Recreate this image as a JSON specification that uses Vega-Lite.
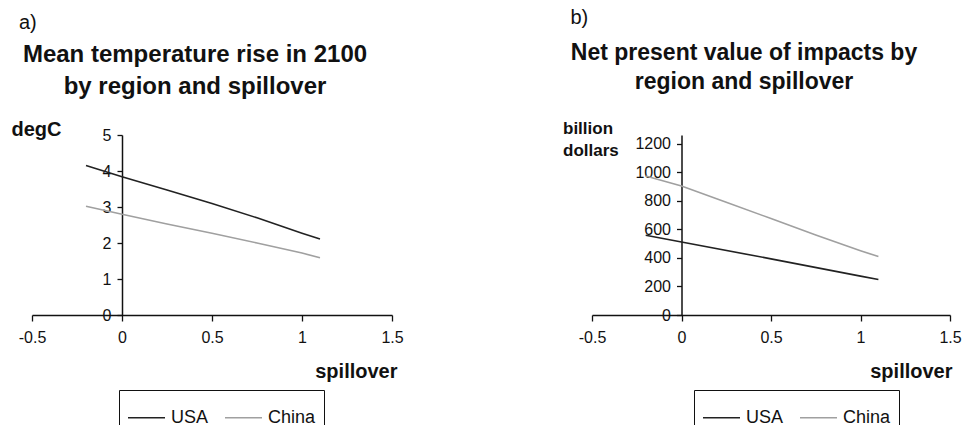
{
  "$schema": "https://vega.github.io/schema/vega-lite/v6.json",
  "background": "#ffffff",
  "padding": {"left": 11, "top": 8, "right": 5, "bottom": 5},
  "config": {
    "font": "Liberation Sans",
    "view": {"stroke": null},
    "axis": {"grid": false, "domainColor": "#111111", "domainWidth": 1.5, "tickColor": "#111111", "tickWidth": 1.3, "labelColor": "#111111", "labelFont": "Liberation Sans", "labelFontSize": 16, "labelFlush": false, "titleFont": "Liberation Sans", "titleColor": "#111111"},
    "title": {"font": "Liberation Sans", "color": "#111111"},
    "legend": {"labelFont": "Liberation Sans"}
  },
  "datasets": {
    "temp": [
      {"region": "USA", "spillover": -0.2, "value": 4.15},
      {"region": "USA", "spillover": 0, "value": 3.84},
      {"region": "USA", "spillover": 0.25, "value": 3.47},
      {"region": "USA", "spillover": 0.5, "value": 3.1},
      {"region": "USA", "spillover": 0.75, "value": 2.7},
      {"region": "USA", "spillover": 1, "value": 2.27},
      {"region": "USA", "spillover": 1.1, "value": 2.11},
      {"region": "China", "spillover": -0.2, "value": 3.02},
      {"region": "China", "spillover": 0, "value": 2.8},
      {"region": "China", "spillover": 0.25, "value": 2.53},
      {"region": "China", "spillover": 0.5, "value": 2.27},
      {"region": "China", "spillover": 0.75, "value": 2.0},
      {"region": "China", "spillover": 1, "value": 1.72},
      {"region": "China", "spillover": 1.1, "value": 1.59}
    ],
    "npv": [
      {"region": "USA", "spillover": -0.2, "value": 558},
      {"region": "USA", "spillover": 0, "value": 511},
      {"region": "USA", "spillover": 0.5, "value": 393},
      {"region": "USA", "spillover": 1, "value": 272},
      {"region": "USA", "spillover": 1.1, "value": 248},
      {"region": "China", "spillover": -0.2, "value": 973},
      {"region": "China", "spillover": 0, "value": 903},
      {"region": "China", "spillover": 0.25, "value": 790},
      {"region": "China", "spillover": 0.5, "value": 675},
      {"region": "China", "spillover": 0.75, "value": 560},
      {"region": "China", "spillover": 1, "value": 450},
      {"region": "China", "spillover": 1.1, "value": 409}
    ]
  },
  "spacing": 158,
  "resolve": {"scale": {"color": "independent", "x": "independent", "y": "independent"}, "legend": {"color": "independent"}},
  "hconcat": [
    {
      "title": {"text": "a)", "anchor": "start", "fontSize": 20, "fontWeight": "normal", "offset": 10, "dx": 8},
      "vconcat": [
        {
          "width": 360,
          "height": 180,
          "title": {"text": ["Mean temperature rise in 2100", "by region and spillover"], "fontSize": 24, "fontWeight": "bold", "anchor": "middle", "lineHeight": 32, "offset": 20, "dx": -17},
          "data": {"name": "temp"},
          "mark": {"type": "line", "strokeWidth": 1.6},
          "encoding": {
            "x": {"field": "spillover", "type": "quantitative", "scale": {"domain": [-0.5, 1.5], "nice": false},
              "axis": {"values": [-0.5, 0, 0.5, 1, 1.5], "labelExpr": "datum.value < 0 ? '-' + format(-datum.value, '~g') : format(datum.value, '~g')", "tickSize": 6, "labelPadding": 8, "title": "spillover", "titleFontSize": 20, "titleFontWeight": "bold", "titleAnchor": "end", "titleAlign": "right", "titleBaseline": "alphabetic", "titleX": 365, "titleY": 62}},
            "y": {"field": "value", "type": "quantitative", "scale": {"domain": [0, 5], "nice": false},
              "axis": {"values": [0, 1, 2, 3, 4, 5], "offset": -90, "tickSize": 5, "labelPadding": 6, "title": "degC", "titleAngle": 0, "titleFontSize": 20, "titleFontWeight": "bold", "titleAlign": "left", "titleBaseline": "alphabetic", "titleX": -111, "titleY": 0}},
            "color": {"field": "region", "type": "nominal", "scale": {"domain": ["USA", "China"], "range": ["#222222", "#a0a0a0"]},
              "legend": {"title": null, "orient": "none", "legendX": 87, "legendY": 255, "direction": "horizontal", "symbolType": "stroke", "symbolSize": 1369, "symbolStrokeWidth": 1.6, "labelFontSize": 18, "labelColor": "#111111", "labelOffset": 5, "columnPadding": 12, "padding": 8, "strokeColor": "#111111"}}
          }
        }
      ]
    },
    {
      "title": {"text": "b)", "anchor": "start", "fontSize": 20, "fontWeight": "normal", "offset": 14, "dx": 8},
      "vconcat": [
        {
          "width": 358,
          "height": 180,
          "title": {"text": ["Net present value of impacts by", "region and spillover"], "fontSize": 23, "fontWeight": "bold", "anchor": "middle", "lineHeight": 29, "offset": 25, "dx": -27},
          "data": {"name": "npv"},
          "mark": {"type": "line", "strokeWidth": 1.6},
          "encoding": {
            "x": {"field": "spillover", "type": "quantitative", "scale": {"domain": [-0.5, 1.5], "nice": false},
              "axis": {"values": [-0.5, 0, 0.5, 1, 1.5], "labelExpr": "datum.value < 0 ? '-' + format(-datum.value, '~g') : format(datum.value, '~g')", "tickSize": 6, "labelPadding": 8, "title": "spillover", "titleFontSize": 20, "titleFontWeight": "bold", "titleAnchor": "end", "titleAlign": "right", "titleBaseline": "alphabetic", "titleX": 360, "titleY": 62}},
            "y": {"field": "value", "type": "quantitative", "scale": {"domain": [0, 1260], "nice": false},
              "axis": {"values": [0, 200, 400, 600, 800, 1000, 1200], "format": "d", "offset": -89.5, "tickSize": 5, "labelPadding": 6, "title": ["billion", "dollars"], "titleAngle": 0, "titleFontSize": 17, "titleFontWeight": "bold", "titleLineHeight": 22, "titleAlign": "left", "titleBaseline": "alphabetic", "titleX": -119, "titleY": -2}},
            "color": {"field": "region", "type": "nominal", "scale": {"domain": ["USA", "China"], "range": ["#222222", "#a0a0a0"]},
              "legend": {"title": null, "orient": "none", "legendX": 102, "legendY": 255, "direction": "horizontal", "symbolType": "stroke", "symbolSize": 1369, "symbolStrokeWidth": 1.6, "labelFontSize": 18, "labelColor": "#111111", "labelOffset": 5, "columnPadding": 12, "padding": 8, "strokeColor": "#111111"}}
          }
        }
      ]
    }
  ]
}
